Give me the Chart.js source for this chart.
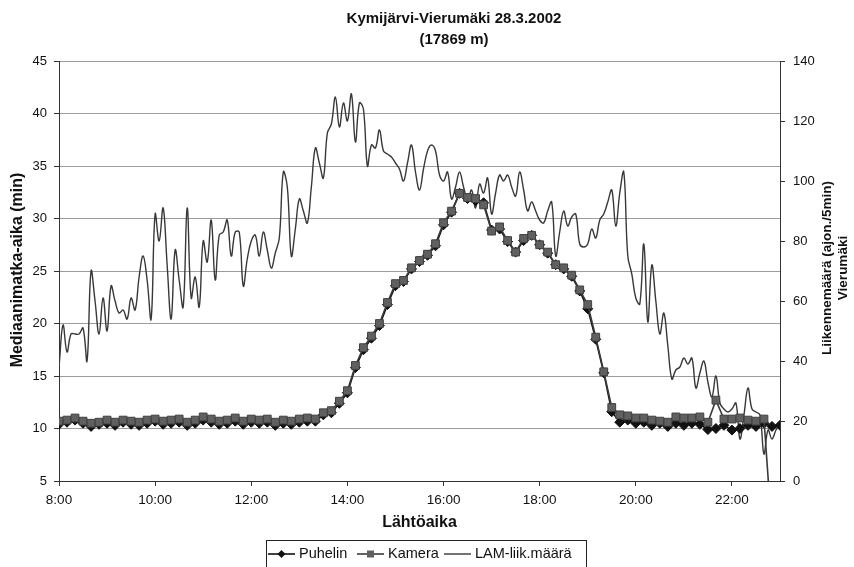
<!DOCTYPE html>
<html>
<head>
<meta charset="utf-8">
<script src="https://cdn.jsdelivr.net/npm/chart.js"></script>
<style>
  body { margin: 0; background: #fff; }
  #wrap { width: 854px; height: 567px; }
</style>
</head>
<body>
<div id="wrap"><canvas id="chart"></canvas></div>
<script>
// CHART DATA

const chartTitle = ["Kymijärvi-Vierumäki 28.3.2002", "(17869 m)"];
const xTitle = "Lähtöaika";
const yTitle = "Mediaanimatka-aika (min)";
const y1Title = ["Liikennemäärä (ajon./5min)", "Vierumäki"];
const seriesNames = ["Puhelin", "Kamera", "LAM-liik.määrä"];

const startHour = 8;      // x axis starts 8:00
const endHour = 23;       // ... and ends 23:00
const travelStep = 10;    // minutes between Puhelin / Kamera values
const lamStep = 5;        // minutes between LAM values

// travel time (min), every 10 min from 8:00
const puhelin = [
  10.4, 10.6, 10.8, 10.5, 10.2, 10.4, 10.5, 10.3, 10.6, 10.4,
  10.3, 10.5, 10.7, 10.4, 10.5, 10.6, 10.3, 10.5, 10.8, 10.6,
  10.4, 10.5, 10.7, 10.4, 10.6, 10.5, 10.6, 10.3, 10.5, 10.4,
  10.6, 10.7, 10.7, 11.3, 11.5, 12.4, 13.4, 15.8, 17.5, 18.6,
  19.8, 21.8, 23.6, 24.0, 25.2, 25.9, 26.5, 27.4, 29.4, 30.6,
  32.4, 31.9, 31.7, 31.5, 28.9, 29.0, 27.8, 26.8, 27.9, 28.4,
  27.5, 26.7, 25.6, 25.2, 24.5, 23.1, 21.4, 18.5, 15.3, 11.6,
  10.6, 10.8, 10.5, 10.6, 10.3, 10.5, 10.2, 10.5, 10.3, 10.5,
  10.4, 9.9, 10.0, 10.3, 9.85, 10.0, 10.3, 10.2, 10.5, 10.2, 10.3
];

const kamera = [
  10.7, 10.8, 11.0, 10.7, 10.5, 10.6, 10.8, 10.6, 10.8, 10.7,
  10.6, 10.8, 10.9, 10.7, 10.8, 10.9, 10.6, 10.8, 11.1, 10.9,
  10.7, 10.8, 11.0, 10.7, 10.9, 10.8, 10.9, 10.6, 10.8, 10.7,
  10.9, 11.0, 10.9, 11.5, 11.7, 12.6, 13.6, 16.0, 17.7, 18.8,
  20.0, 22.0, 23.8, 24.1, 25.3, 26.0, 26.6, 27.6, 29.6, 30.7,
  32.4, 32.0, 31.9, 31.3, 28.8, 29.2, 27.9, 26.8, 28.1, 28.4,
  27.5, 26.8, 25.6, 25.3, 24.6, 23.2, 21.8, 18.7, 15.4, 12.0,
  11.3, 11.2, 11.0, 11.0, 10.8, 10.7, 10.6, 11.1, 11.0, 11.0,
  11.1, 10.6, 12.7, 10.9, 10.9, 11.0, 10.8, 10.7, 10.9, 0, null
];

// LAM traffic volume (vehicles / 5 min), every 5 min from 8:00
const lamCounts = [
  38, 52, 43, 49, 49, 49, 51, 40, 70, 60,
  49, 61, 50, 65, 60, 56, 57, 54, 61, 57,
  68, 75, 67, 54, 89, 80, 91, 72, 54, 77,
  67, 58, 91, 61, 68, 58, 80, 73, 87, 67,
  82, 83, 87, 75, 83, 83, 65, 74, 80, 82,
  75, 83, 77, 71, 76, 81, 103, 98, 75, 84,
  94, 90, 86, 98, 111, 106, 101, 116, 119, 128,
  118, 126, 120, 129, 113, 126, 124, 105, 112, 111,
  117, 110, 109, 108, 106, 104, 100, 106, 112, 103,
  97, 104, 110, 112, 110, 102, 100, 103, 94, 98,
  103, 98, 94, 97, 91, 99, 96, 101, 89, 96,
  102, 100, 102, 98, 95, 103, 97, 90, 93, 90,
  87, 86, 90, 93, 75, 83, 90, 85, 88, 89,
  79, 78, 79, 84, 81, 87, 89, 93, 97, 85,
  96, 103, 75, 69, 61, 59, 79, 53, 72, 60,
  49, 56, 45, 34, 37, 38, 41, 39, 41, 31,
  36, 40, 33, 28, 35, 26, 24, 23, 24, 26,
  14, 22, 31, 24, 23, 22, 9, 17, 14, 17, 19
];

const fontFamily = '"Liberation Sans", Arial, sans-serif';

// turn value lists into {x: minutes since 8:00, y}
function toPoints(values, step) {
  return values.map((v, i) => ({ x: i * step, y: v }));
}

// titles, axis titles and the boxed legend at the bottom
const chartText = {
  id: "chartText",
  afterDraw(chart) {
    const ctx = chart.ctx;
    const area = chart.chartArea;
    ctx.save();
    ctx.fillStyle = "#111";
    ctx.textAlign = "center";
    ctx.textBaseline = "middle";

    ctx.font = "bold 15px " + fontFamily;
    ctx.fillText(chartTitle[0], 454, 19);
    ctx.fillText(chartTitle[1], 454, 40);

    ctx.font = "bold 16px " + fontFamily;
    ctx.fillText(xTitle, (area.left + area.right) / 2, 523);

    ctx.save();
    ctx.translate(18, 270);
    ctx.rotate(-Math.PI / 2);
    ctx.font = "bold 16px " + fontFamily;
    ctx.fillText(yTitle, 0, 0);
    ctx.restore();

    ctx.save();
    ctx.translate(835, 268);
    ctx.rotate(-Math.PI / 2);
    ctx.font = "bold 13.5px " + fontFamily;
    ctx.fillText(y1Title[0], 0, -8);
    ctx.fillText(y1Title[1], 0, 8);
    ctx.restore();

    // legend
    ctx.strokeStyle = "#222";
    ctx.lineWidth = 1;
    ctx.strokeRect(266.5, 540.5, 320, 30);
    ctx.font = "14.5px " + fontFamily;
    ctx.textAlign = "left";
    const itemX = [268, 357, 444];
    const y = 554;
    chart.data.datasets.forEach((ds, i) => {
      const x = itemX[i];
      ctx.strokeStyle = ds.borderColor;
      ctx.lineWidth = ds.borderWidth;
      ctx.beginPath();
      ctx.moveTo(x, y);
      ctx.lineTo(x + 27, y);
      ctx.stroke();
      const cx = x + 13.5;
      ctx.fillStyle = ds.backgroundColor;
      if (ds.pointStyle === "rectRot") {
        ctx.beginPath();
        ctx.moveTo(cx, y - 4);
        ctx.lineTo(cx + 4, y);
        ctx.lineTo(cx, y + 4);
        ctx.lineTo(cx - 4, y);
        ctx.closePath();
        ctx.fill();
      } else if (ds.pointStyle === "rect") {
        ctx.fillRect(cx - 3.5, y - 3.5, 7, 7);
      }
      ctx.fillStyle = "#111";
      ctx.fillText(ds.label, x + 31, y);
    });
    ctx.restore();
  }
};

const ctx = document.getElementById("chart").getContext("2d");

new Chart(ctx, {
  type: "line",
  data: {
    datasets: [
      {
        label: seriesNames[0],
        data: toPoints(puhelin, travelStep),
        yAxisID: "y",
        borderColor: "#111",
        backgroundColor: "#111",
        borderWidth: 1.6,
        pointStyle: "rectRot",
        pointRadius: 5,
        pointBorderWidth: 1,
        pointBorderColor: "#111",
        tension: 0,
        order: 1
      },
      {
        label: seriesNames[1],
        data: toPoints(kamera, travelStep),
        yAxisID: "y",
        borderColor: "#3a3a3a",
        backgroundColor: "#606060",
        borderWidth: 1.6,
        pointStyle: "rect",
        pointRadius: 5.5,
        pointBorderWidth: 1,
        pointBorderColor: "#404040",
        tension: 0,
        order: 0
      },
      {
        label: seriesNames[2],
        data: toPoints(lamCounts, lamStep),
        yAxisID: "y1",
        borderColor: "#383838",
        backgroundColor: "#383838",
        borderWidth: 1.4,
        pointRadius: 0,
        tension: 0.4,
        order: 2
      }
    ]
  },
  options: {
    responsive: true,
    maintainAspectRatio: false,
    animation: false,
    events: [],
    layout: { padding: { top: 61, left: 0, right: 0, bottom: 0 } },
    plugins: {
      legend: { display: false },
      title: { display: false },
      tooltip: { enabled: false }
    },
    scales: {
      x: {
        type: "linear",
        min: 0,
        max: (endHour - startHour) * 60,
        afterFit: s => { s.height = 86; },
        grid: { drawOnChartArea: false, tickLength: 5, color: "#333" },
        border: { color: "#333", width: 1 },
        ticks: {
          stepSize: 120,
          includeBounds: false,
          maxRotation: 0,
          autoSkip: false,
          padding: 6,
          color: "#111",
          font: { family: fontFamily, size: 13.5 },
          callback: v => `${startHour + v / 60}:00`
        }
      },
      y: {
        position: "left",
        min: 5,
        max: 45,
        afterFit: s => { s.width = 59; },
        grid: { color: "#9c9c9c", tickLength: 5, tickColor: "#333" },
        border: { color: "#333", width: 1 },
        ticks: {
          stepSize: 5,
          padding: 7,
          color: "#111",
          font: { family: fontFamily, size: 13 }
        }
      },
      y1: {
        position: "right",
        min: 0,
        max: 140,
        afterFit: s => { s.width = 74; },
        grid: { drawOnChartArea: false, tickLength: 5, color: "#333" },
        border: { color: "#333", width: 1 },
        ticks: {
          stepSize: 20,
          padding: 8,
          color: "#111",
          font: { family: fontFamily, size: 13 }
        }
      }
    }
  },
  plugins: [chartText]
});
</script>
</body>
</html>
